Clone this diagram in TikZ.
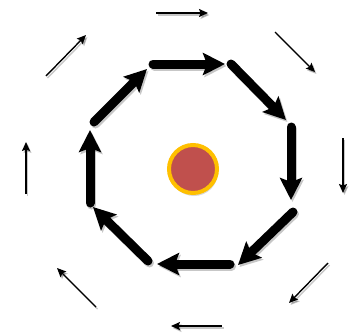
\documentclass[tikz,border=0pt]{standalone}
\usepackage{tikz}
\usetikzlibrary{arrows.meta,shadows}
\definecolor{sunred}   {HTML}{C0504D}
\definecolor{sunyellow}{HTML}{FFC000}

\tikzset{
  bigarrow/.style={line width=9pt,line cap=round,
    -{Stealth[length=22pt,width=22pt,inset=4pt]}},
  thinarrow/.style={line width=1.4pt,
    -{Stealth[length=9pt,width=8pt,inset=1.5pt]}},
  arrowshadow/.style={black,opacity=0.22,
    transform canvas={xshift=1.5pt,yshift=-2pt}},
}

\begin{document}
\begin{tikzpicture}[x=1pt,y=-1pt]
        \useasboundingbox (0,0) rectangle (356,335);
        % inner ring, start and end of each arrow
        \coordinate (a1) at (153,64);  \coordinate (b1) at (225,64);
        \coordinate (a2) at (231,64);  \coordinate (b2) at (286,120);
        \coordinate (a3) at (291,127); \coordinate (b3) at (291,200);
        \coordinate (a4) at (293,212); \coordinate (b4) at (238,265);
        \coordinate (a5) at (230,264); \coordinate (b5) at (157,264);
        \coordinate (a6) at (148,261); \coordinate (b6) at (93,207);
        \coordinate (a7) at (90,203);  \coordinate (b7) at (90,130);
        \coordinate (a8) at (94,122);  \coordinate (b8) at (147,69);
        % outer ring
        \coordinate (c1) at (156,13);  \coordinate (d1) at (208,13);
        \coordinate (c2) at (275,32);  \coordinate (d2) at (315,72);
        \coordinate (c3) at (343,138); \coordinate (d3) at (343,193);
        \coordinate (c4) at (328,263); \coordinate (d4) at (289,303);
        \coordinate (c5) at (222,326); \coordinate (d5) at (171,326);
        \coordinate (c6) at (96,307);  \coordinate (d6) at (57,268);
        \coordinate (c7) at (26,194);  \coordinate (d7) at (26,142);
        \coordinate (c8) at (46,76);   \coordinate (d8) at (86,35);
        % shadows
        \foreach \i in {1,...,8} {
          \draw[bigarrow,arrowshadow] (a\i) -- (b\i);
          \draw[thinarrow,arrowshadow] (c\i) -- (d\i);
        }
        % arrows
        \foreach \i in {1,...,8} {
          \draw[bigarrow] (a\i) -- (b\i);
          \draw[thinarrow] (c\i) -- (d\i);
        }
        % centre
        \node[circle,fill=sunred,draw=sunyellow,line width=4pt,
              minimum size=48pt,inner sep=0pt,
              drop shadow={opacity=0.3,shadow xshift=1pt,shadow yshift=-3pt}]
              (sun) at (193,169) {};
\end{tikzpicture}
\end{document}
